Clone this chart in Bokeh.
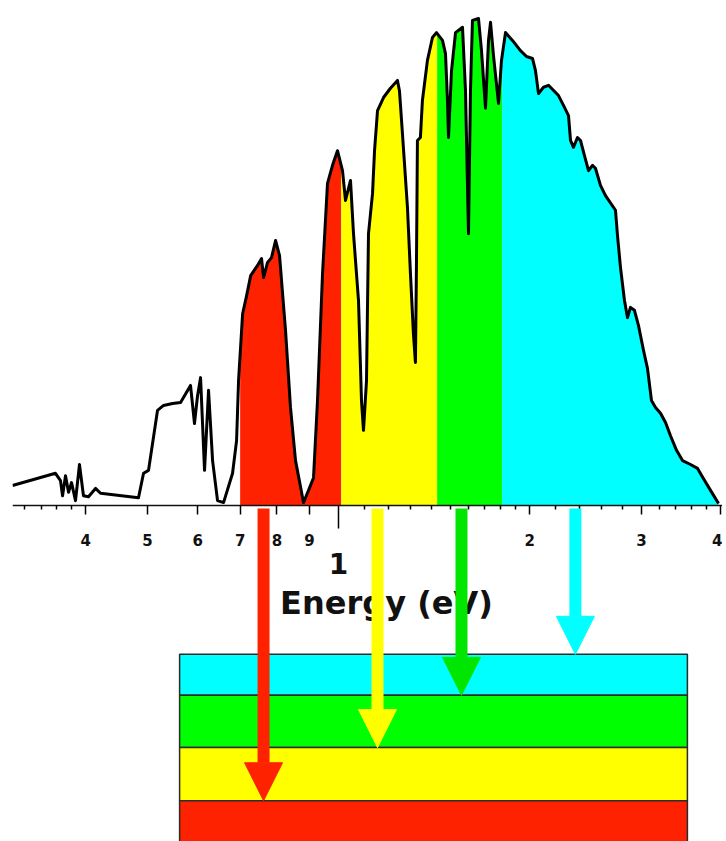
import numpy as np
from bokeh.plotting import figure
from bokeh.models import LogAxis, FixedTicker, CustomJSTickFormatter, Label, Arrow, NormalHead
from bokeh.embed import file_html
from bokeh.resources import INLINE

# ---- spectrum (energy in eV, relative irradiance) ----
energy_ev = [
    0.3066, 0.3583, 0.3649, 0.3676, 0.3716, 0.3757, 0.3798, 0.3853, 0.3909, 0.3966,
    0.4039, 0.4143, 0.4219, 0.4842, 0.4931, 0.5021, 0.5188, 0.5302, 0.5478, 0.5640,
    0.5847, 0.5932, 0.5998, 0.6064, 0.6152, 0.6242, 0.6334, 0.6449, 0.6591, 0.6810,
    0.6910,
    0.6960, 0.7063, 0.7166, 0.7272, 0.7456, 0.7565, 0.7620, 0.7731, 0.7844, 0.7959,
    0.8075, 0.8252, 0.8402, 0.8557, 0.8808, 0.8970, 0.9134, 0.9267, 0.9437, 0.9609,
    0.9785, 0.9963,
    1.0146, 1.0257, 1.0445, 1.0559, 1.0752, 1.0869, 1.0949, 1.1069, 1.1149, 1.1313,
    1.1396, 1.1520, 1.1774, 1.2073, 1.2383, 1.2474, 1.2610, 1.2841, 1.2981, 1.3122,
    1.3218, 1.3266, 1.3314, 1.3459, 1.3557, 1.3806, 1.4060, 1.4266,
    1.4581, 1.4740, 1.4847, 1.4902, 1.5066, 1.5287, 1.5678, 1.5849, 1.6022, 1.6138,
    1.6255, 1.6614, 1.6796, 1.7042, 1.7228, 1.7355, 1.7543, 1.7865, 1.8059, 1.8323,
    1.8793, 1.9346, 1.9774, 2.0208, 2.0428, 2.0654, 2.1029, 2.1415, 2.2207, 2.2613,
    2.3027, 2.3195, 2.3447, 2.3790, 2.4050, 2.4400, 2.4758, 2.5119, 2.5392, 2.5858,
    2.6334, 2.7305, 2.7504, 2.7803, 2.8210, 2.8517, 2.8827, 2.9248, 2.9676, 3.0222,
    3.0664, 3.1113, 3.1569, 3.2148, 3.2739, 3.3333, 3.4071, 3.4817, 3.5842, 3.6771,
    3.7576, 3.8541, 3.9676,
]
irradiance = [
    0.041, 0.066, 0.051, 0.020, 0.061, 0.027, 0.047, 0.010, 0.084, 0.020,
    0.018, 0.035, 0.025, 0.016, 0.066, 0.072, 0.195, 0.205, 0.209, 0.211,
    0.246, 0.168, 0.225, 0.262, 0.072, 0.236, 0.092, 0.010, 0.006, 0.066,
    0.133,
    0.256, 0.393, 0.430, 0.471, 0.492, 0.506, 0.467, 0.498, 0.508, 0.543,
    0.512, 0.359, 0.201, 0.092, 0.006, 0.031, 0.057, 0.215, 0.475, 0.660,
    0.697, 0.727,
    0.686, 0.625, 0.666, 0.557, 0.420, 0.215, 0.154, 0.256, 0.557, 0.639,
    0.727, 0.809, 0.836, 0.855, 0.871, 0.850, 0.762, 0.611, 0.475, 0.352,
    0.293, 0.488, 0.748, 0.754, 0.830, 0.912, 0.959, 0.969,
    0.953, 0.926, 0.830, 0.754, 0.891, 0.969, 0.980, 0.850, 0.557, 0.850,
    0.994, 0.998, 0.932, 0.814, 0.953, 0.990, 0.922, 0.824, 0.912, 0.969,
    0.953, 0.932, 0.920, 0.916, 0.891, 0.844, 0.857, 0.861, 0.840, 0.820,
    0.799, 0.748, 0.734, 0.754, 0.748, 0.717, 0.686, 0.697, 0.691, 0.656,
    0.635, 0.605, 0.553, 0.488, 0.420, 0.385, 0.406, 0.400, 0.369, 0.318,
    0.281, 0.215, 0.201, 0.189, 0.170, 0.143, 0.113, 0.092, 0.084, 0.076,
    0.055, 0.031, 0.004,
]

# ---- absorption bands of the four sub-cells ----
band_edges_ev = [0.70, 1.01, 1.43, 1.81, 4.0]
band_colors = ["#FF2200", "#FFFF00", "#00FF00", "#00FFFF"]

# ---- axis ticks ----
tick_values = [0.4, 0.5, 0.6, 0.7, 0.8, 0.9, 2, 3, 4]
tick_labels = ["4", "5", "6", "7", "8", "9", "2", "3", "4"]
decade_ticks = [1]
decade_labels = ["1"]
minor_tick_values = [0.32, 0.34, 0.36, 0.38,
                     1.1, 1.2, 1.3, 1.4, 1.5, 1.6, 1.7, 1.8, 1.9,
                     2.2, 2.4, 2.6, 2.8, 3.2, 3.4, 3.6, 3.8]
axis_title = "Energy (eV)"

# ---- layer stack (top to bottom) and the arrows feeding each layer ----
layer_colors = ["#00FFFF", "#00FF00", "#FFFF00", "#FF2200"]
layer_top = [-0.305, -0.389, -0.496, -0.605]
layer_bottom = [-0.389, -0.496, -0.605, -0.72]
stack_left_ev, stack_right_ev = 0.562, 3.544
arrow_ev = [0.762, 1.152, 1.562, 2.361]
arrow_colors = ["#FF2200", "#FFFF00", "#00E600", "#00FFFF"]
arrow_layer = [3, 2, 1, 0]

p = figure(width=722, height=841, x_axis_type="log",
           x_axis_location=None, y_axis_location=None,
           x_range=(0.3066, 4.025), y_range=(-0.6885, 1.0184),
           output_backend="svg", toolbar_location=None,
           min_border_left=12, min_border_right=0, min_border_top=8, min_border_bottom=0)
p.outline_line_color = None
p.grid.visible = False

E = np.array(energy_ev)
I = np.array(irradiance)
logE = np.log10(E)
for lo, hi, c in zip(band_edges_ev[:-1], band_edges_ev[1:], band_colors):
    hi_eff = min(hi, E[-1])
    inside = (E > lo) & (E < hi_eff)
    xs = np.concatenate([[lo], E[inside], [hi_eff]])
    ys = np.interp(np.log10(xs), logE, I)
    p.varea(x=xs, y1=0, y2=ys, fill_color=c)

p.line(E, I, line_color="black", line_width=3, line_join="round")

p.quad(left=[stack_left_ev] * len(layer_colors), right=[stack_right_ev] * len(layer_colors),
       top=layer_top, bottom=layer_bottom, fill_color=layer_colors,
       line_color="#2a2a2a", line_width=1.5)

label_code = """
const i = vals.findIndex((v) => Math.abs(v - tick) < 1e-6);
return i >= 0 ? labs[i] : "";
"""

ax = LogAxis(fixed_location=0,
             ticker=FixedTicker(ticks=tick_values, minor_ticks=minor_tick_values),
             formatter=CustomJSTickFormatter(args=dict(vals=tick_values, labs=tick_labels), code=label_code),
             major_tick_out=9, major_tick_in=0, minor_tick_out=4, minor_tick_in=0,
             major_tick_line_width=1.5, minor_tick_line_width=1.5,
             axis_line_width=1.5, axis_line_color="#111111",
             major_label_standoff=20,
             major_label_text_font="DejaVu Sans", major_label_text_font_style="bold",
             major_label_text_font_size="15px", major_label_text_color="#111111")
p.add_layout(ax, "below")

ax1 = LogAxis(fixed_location=0,
              ticker=FixedTicker(ticks=decade_ticks, minor_ticks=[]),
              formatter=CustomJSTickFormatter(args=dict(vals=decade_ticks, labs=decade_labels), code=label_code),
              major_tick_out=23, major_tick_in=0, major_tick_line_width=1.5,
              axis_line_color=None, minor_tick_line_color=None,
              major_label_standoff=25,
              major_label_text_font="DejaVu Sans", major_label_text_font_style="bold",
              major_label_text_font_size="28px", major_label_text_color="#111111")
p.add_layout(ax1, "below")

p.add_layout(Label(x=1.19, y=-0.1988, text=axis_title, text_align="center",
                   text_baseline="alphabetic", text_font="DejaVu Sans",
                   text_font_style="bold", text_font_size="32px", text_color="#111111"))

for xe, c, li in zip(arrow_ev, arrow_colors, arrow_layer):
    p.add_layout(Arrow(x_start=xe, y_start=-0.006, x_end=xe, y_end=layer_top[li],
                       line_color=c, line_width=12,
                       end=NormalHead(size=38, fill_color=c, line_color=c, line_width=1)))

open("out.html", "w").write(file_html(p, INLINE))
